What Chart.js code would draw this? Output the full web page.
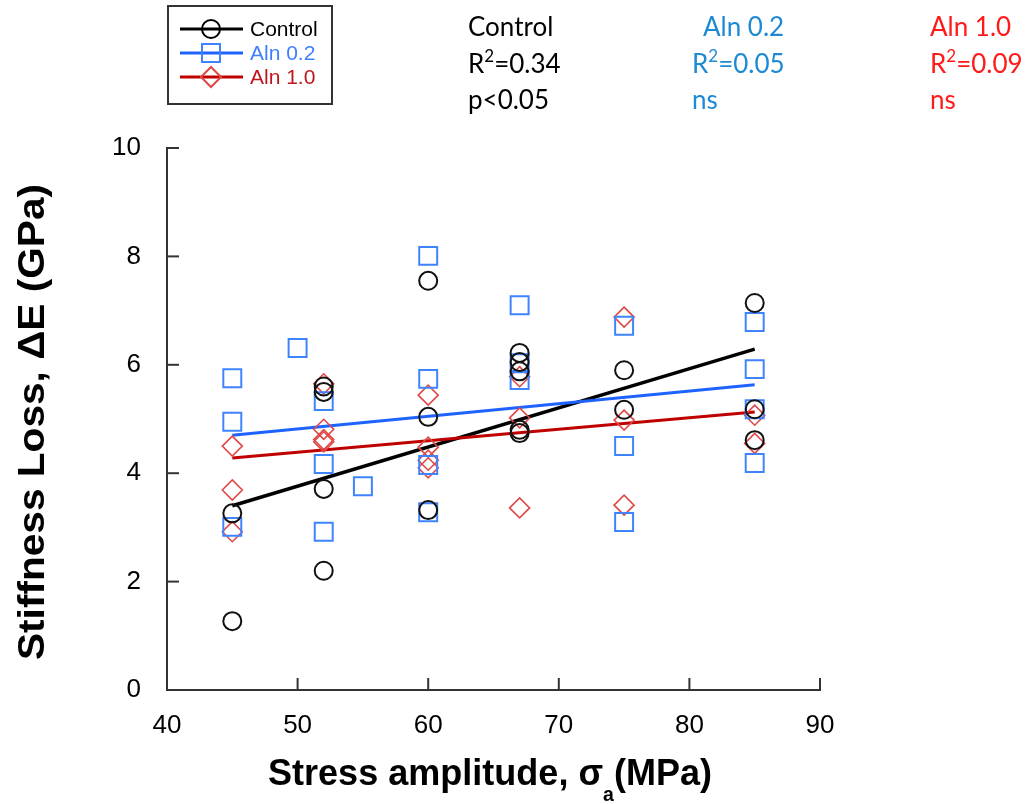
<!DOCTYPE html>
<html>
<head>
<meta charset="utf-8">
<script src="https://cdn.jsdelivr.net/npm/chart.js@4/dist/chart.umd.min.js"></script>
<style>
  html, body { margin: 0; padding: 0; background: #fff; }
  #wrap { width: 1029px; height: 804px; }
</style>
</head>
<body>
<div id="wrap"><canvas id="myChart" width="1029" height="804"></canvas></div>
<script>
// axis ticks
const xTicks = [40, 50, 60, 70, 80, 90];
const yTicks = [0, 2, 4, 6, 8, 10];

// Control group (circles)
const controlX = [45, 45, 52, 52, 52, 52, 60, 60, 60, 67, 67, 67, 67, 67, 75, 75, 85, 85, 85];
const controlY = [3.26, 1.27, 5.60, 5.50, 3.71, 2.20, 7.55, 5.04, 3.32, 6.22, 6.05, 5.88, 4.80, 4.74, 5.90, 5.17, 7.14, 5.18, 4.61];

// Aln 0.2 (squares)
const aln02X = [45, 45, 45, 50, 52, 52, 52, 55, 60, 60, 60, 60, 67, 67, 67, 75, 75, 75, 85, 85, 85, 85];
const aln02Y = [5.75, 4.95, 3.01, 6.31, 5.33, 4.17, 2.92, 3.76, 8.01, 5.74, 4.15, 3.28, 7.10, 6.03, 5.72, 6.72, 4.50, 3.10, 6.79, 5.92, 5.18, 4.19];

// Aln 1.0 (diamonds)
const aln10X = [45, 45, 45, 52, 52, 52, 52, 60, 60, 60, 60, 67, 67, 67, 75, 75, 75, 85, 85];
const aln10Y = [4.50, 3.69, 2.92, 5.65, 4.81, 4.62, 4.58, 5.44, 4.48, 4.24, 4.10, 5.78, 5.02, 3.36, 6.88, 4.98, 3.41, 5.07, 4.55];

// fitted lines at the ends
const fitX = [45, 85];
const controlFit = [3.40, 6.29];
const aln02Fit = [4.70, 5.63];
const aln10Fit = [4.28, 5.13];

const seriesNames = ['Control', 'Aln 0.2', 'Aln 1.0'];
const statTitles = ['Control', 'Aln 0.2', 'Aln 1.0'];
const statR2 = ['0.34', '0.05', '0.09'];
const statP = ['p<0.05', 'ns', 'ns'];

function toPoints(xs, ys) {
    return xs.map((x, i) => ({ x: x, y: ys[i] }));
}

function drawMarker(ctx, style, x, y, color, lw) {
    ctx.save();
    ctx.strokeStyle = color;
    ctx.lineWidth = lw;
    ctx.beginPath();
    if (style === 'circle') {
        ctx.arc(x, y, 9, 0, Math.PI * 2);
    } else if (style === 'rect') {
        ctx.rect(x - 9, y - 9, 18, 18);
    } else {
        ctx.moveTo(x, y - 10);
        ctx.lineTo(x + 10, y);
        ctx.lineTo(x, y + 10);
        ctx.lineTo(x - 10, y);
        ctx.closePath();
    }
    ctx.stroke();
    ctx.restore();
}

const BOLD = 'bold 37px "Liberation Sans", Arial, sans-serif';
const SUB = 'bold 20px "Liberation Sans", Arial, sans-serif';

const extras = {
    id: 'extras',
    afterDraw(chart) {
        const ctx = chart.ctx;
        const xs = chart.scales.x;
        const ys = chart.scales.y;
        const area = chart.chartArea;

        // inward tick marks
        ctx.save();
        ctx.strokeStyle = '#333';
        ctx.lineWidth = 2;
        xTicks.forEach(v => {
            const px = xs.getPixelForValue(v);
            ctx.beginPath();
            ctx.moveTo(px, area.bottom);
            ctx.lineTo(px, area.bottom - 12);
            ctx.stroke();
        });
        yTicks.forEach(v => {
            const py = ys.getPixelForValue(v);
            ctx.beginPath();
            ctx.moveTo(area.left, py);
            ctx.lineTo(area.left + 12, py);
            ctx.stroke();
        });
        ctx.restore();

        // x axis title with subscript
        ctx.save();
        ctx.fillStyle = '#000';
        ctx.textBaseline = 'alphabetic';
        const p1 = 'Stress amplitude, σ';
        const p2 = '(MPa)';
        ctx.font = BOLD;
        const w1 = ctx.measureText(p1).width;
        const w2 = ctx.measureText(p2).width;
        ctx.font = SUB;
        const wa = ctx.measureText('a').width;
        const target = 444;
        const sx = target / (w1 + wa + w2);
        ctx.translate(268, 785);
        ctx.scale(sx, 1);
        ctx.font = BOLD;
        ctx.fillText(p1, 0, 0);
        ctx.font = SUB;
        ctx.fillText('a', w1, 16);
        ctx.font = BOLD;
        ctx.fillText(p2, w1 + wa, 0);
        ctx.restore();

        // y axis title
        ctx.save();
        ctx.fillStyle = '#000';
        ctx.font = BOLD;
        const yt = 'Stiffness Loss, ΔE (GPa)';
        const wy = ctx.measureText(yt).width;
        ctx.translate(44, 422);
        ctx.rotate(-Math.PI / 2);
        ctx.scale(476 / wy, 1);
        ctx.textAlign = 'center';
        ctx.fillText(yt, 0, 0);
        ctx.restore();

        // legend box
        ctx.save();
        ctx.strokeStyle = '#333';
        ctx.lineWidth = 2;
        ctx.strokeRect(168, 6, 164, 98);
        const legColors = ['#000000', '#1f63ff', '#c00000'];
        const legMarkColors = ['#000000', '#3f84ff', '#e04848'];
        const legText = ['#000000', '#3f7fff', '#c0171d'];
        const legStyles = ['circle', 'rect', 'rectRot'];
        ctx.font = '21px "Liberation Sans", Arial, sans-serif';
        ctx.textBaseline = 'middle';
        seriesNames.forEach((name, i) => {
            const y = 29 + i * 24;
            ctx.strokeStyle = legColors[i];
            ctx.lineWidth = 3;
            ctx.beginPath();
            ctx.moveTo(180, y);
            ctx.lineTo(243, y);
            ctx.stroke();
            drawMarker(ctx, legStyles[i], 211, y, legMarkColors[i], 2);
            ctx.fillStyle = legText[i];
            ctx.fillText(name, 250, y + 1);
        });
        ctx.restore();

        // statistics text
        ctx.save();
        const MAIN = '26px Lato, "Open Sans", sans-serif';
        const SUP = '17px Lato, "Open Sans", sans-serif';
        ctx.textBaseline = 'alphabetic';
        const statColors = ['#000000', '#1e8ad6', '#ff1a1a'];
        const titleX = [468, 703, 930];
        const bodyX = [468, 692, 930];
        statTitles.forEach((t, i) => {
            ctx.fillStyle = statColors[i];
            ctx.font = MAIN;
            ctx.fillText(t, titleX[i], 36);
            // R squared line
            let x = bodyX[i];
            ctx.fillText('R', x, 73);
            x += ctx.measureText('R').width;
            ctx.font = SUP;
            ctx.fillText('2', x, 62);
            x += ctx.measureText('2').width;
            ctx.font = MAIN;
            ctx.fillText('=' + statR2[i], x, 73);
            ctx.fillText(statP[i], bodyX[i], 109);
        });
        ctx.restore();
    }
};

const ctx = document.getElementById('myChart').getContext('2d');
new Chart(ctx, {
    type: 'scatter',
    data: {
        datasets: [
            {
                label: 'Control',
                data: toPoints(controlX, controlY),
                pointStyle: 'circle',
                pointRadius: 9,
                pointBorderWidth: 2,
                pointBorderColor: '#111',
                pointBackgroundColor: 'rgba(0,0,0,0)',
                showLine: false
            },
            {
                label: 'Aln 0.2',
                data: toPoints(aln02X, aln02Y),
                pointStyle: 'rect',
                pointRadius: 12.7,
                pointBorderWidth: 2,
                pointBorderColor: '#3f84ff',
                pointBackgroundColor: 'rgba(0,0,0,0)',
                showLine: false
            },
            {
                label: 'Aln 1.0',
                data: toPoints(aln10X, aln10Y),
                pointStyle: 'rectRot',
                pointRadius: 10,
                pointBorderWidth: 1.6,
                pointBorderColor: '#e04848',
                pointBackgroundColor: 'rgba(0,0,0,0)',
                showLine: false
            },
            {
                label: 'Aln 0.2 fit',
                data: toPoints(fitX, aln02Fit),
                showLine: true,
                borderColor: '#1f63ff',
                borderWidth: 3,
                pointRadius: 0
            },
            {
                label: 'Aln 1.0 fit',
                data: toPoints(fitX, aln10Fit),
                showLine: true,
                borderColor: '#c00000',
                borderWidth: 3,
                pointRadius: 0
            },
            {
                label: 'Control fit',
                data: toPoints(fitX, controlFit),
                showLine: true,
                borderColor: '#000',
                borderWidth: 3.5,
                pointRadius: 0
            }
        ]
    },
    options: {
        responsive: false,
        animation: false,
        layout: { padding: { top: 148, right: 209, left: 0, bottom: 0 } },
        plugins: {
            legend: { display: false },
            tooltip: { enabled: false }
        },
        scales: {
            x: {
                type: 'linear',
                min: 40,
                max: 90,
                afterFit: s => { s.height = 114; },
                afterBuildTicks: s => { s.ticks = xTicks.map(v => ({ value: v })); },
                grid: { display: false },
                border: { display: true, color: '#333', width: 2 },
                ticks: {
                    color: '#000',
                    padding: 12,
                    font: { family: '"Liberation Sans", Arial, sans-serif', size: 26 }
                }
            },
            y: {
                min: 0,
                max: 10,
                afterFit: s => { s.width = 167; },
                afterBuildTicks: s => { s.ticks = yTicks.map(v => ({ value: v })); },
                grid: { display: false },
                border: { display: true, color: '#333', width: 2 },
                ticks: {
                    color: '#000',
                    padding: 18,
                    font: { family: '"Liberation Sans", Arial, sans-serif', size: 26 }
                }
            }
        }
    },
    plugins: [extras]
});
</script>
</body>
</html>
